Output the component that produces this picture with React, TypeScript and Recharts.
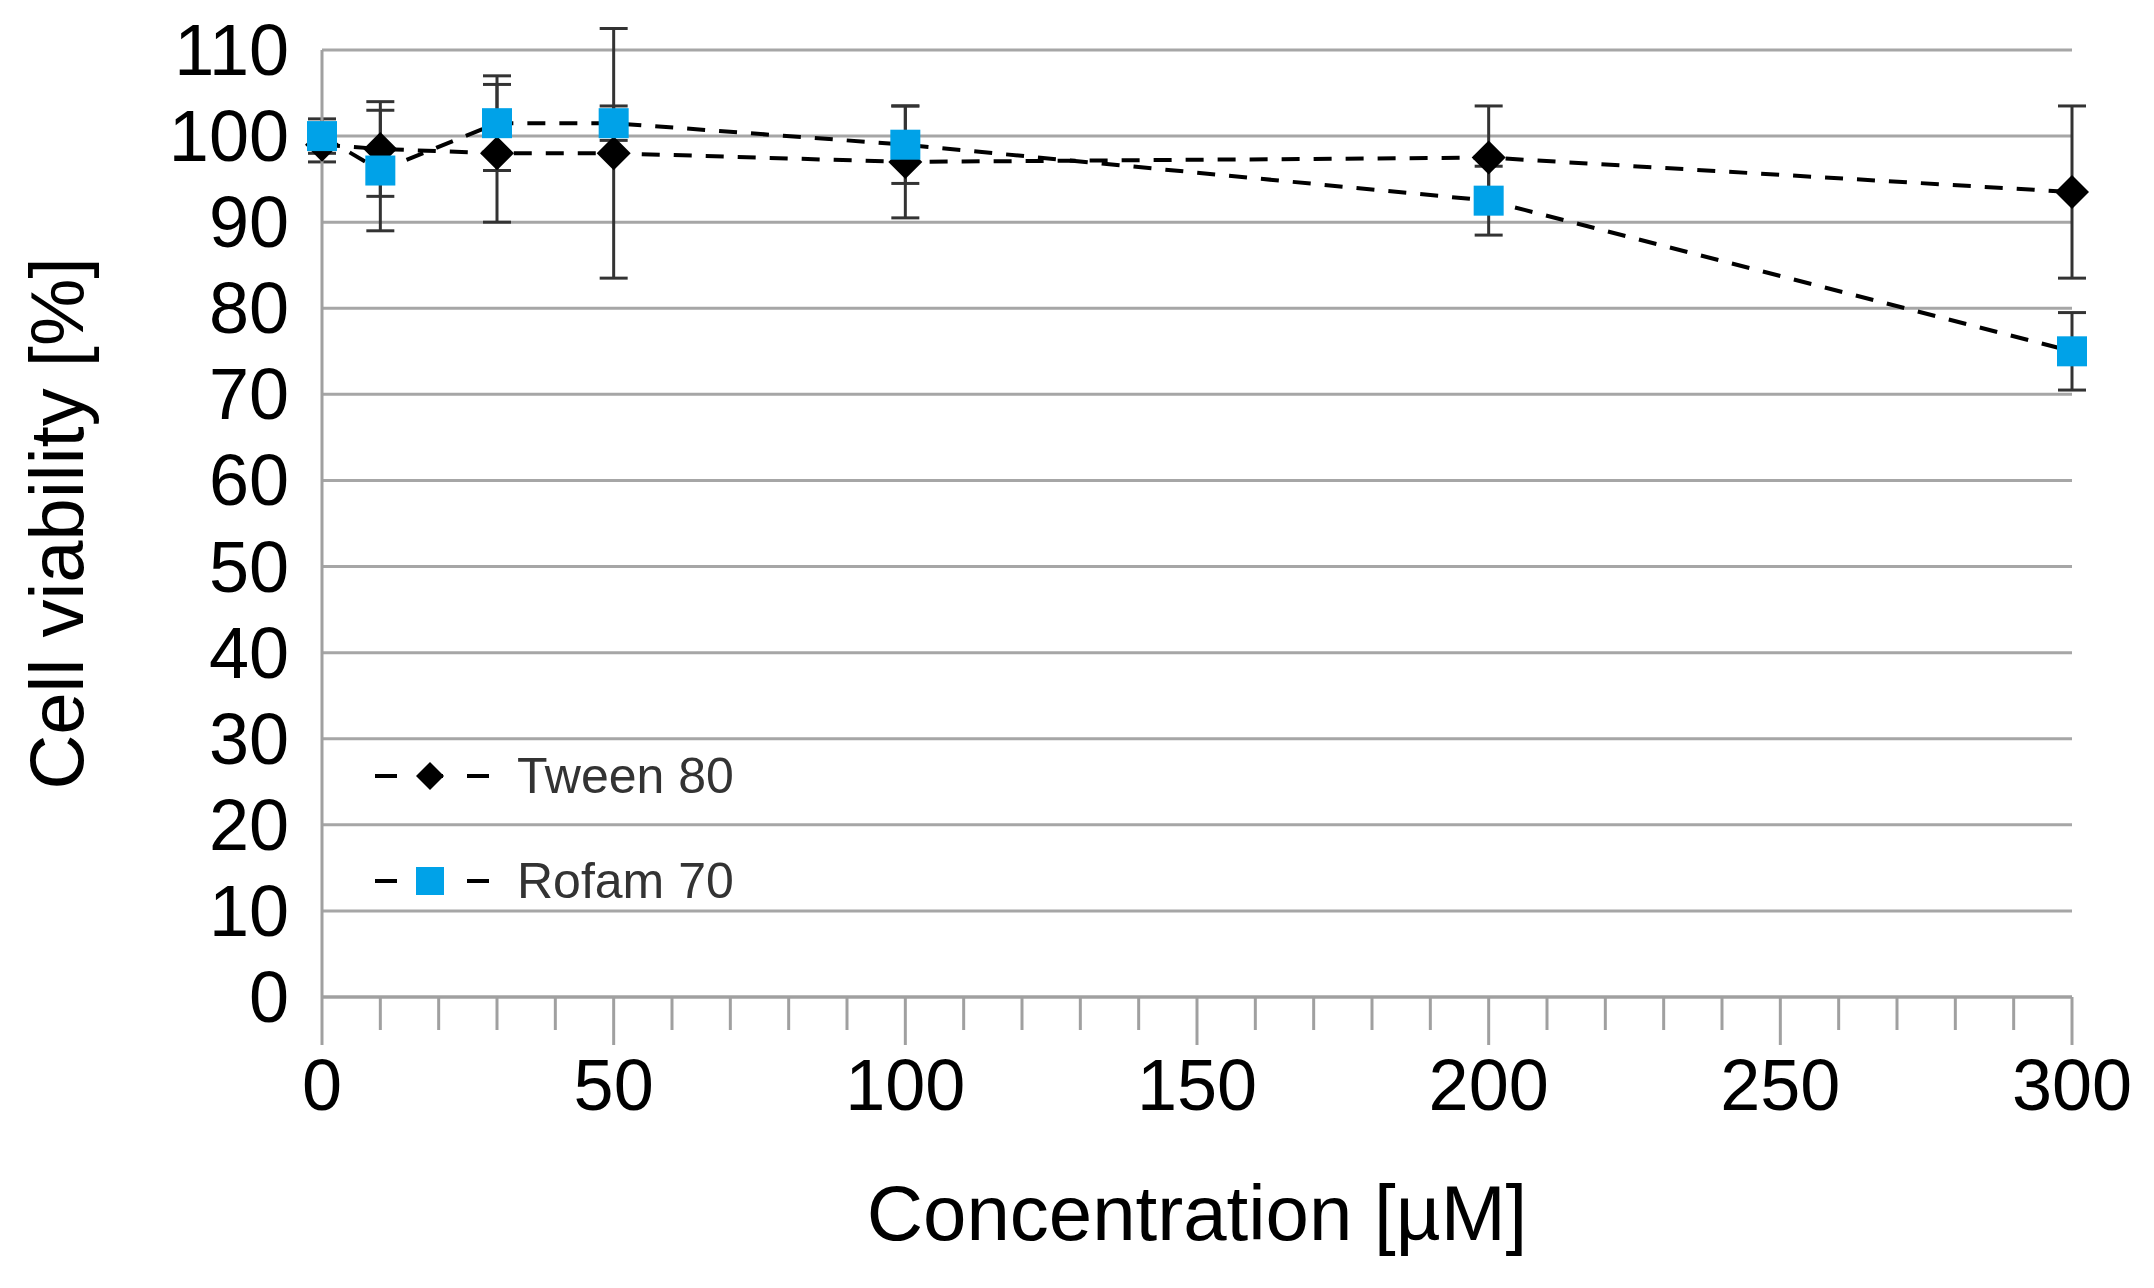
import React from 'react';
import { LineChart, Line, XAxis, YAxis, CartesianGrid, ErrorBar } from 'recharts';

const concentrations = [0, 10, 30, 50, 100, 200, 300];
const tween80 = [99, 98.5, 98, 98, 97, 97.5, 93.5];
const tween80Err = [2, 5.5, 8, 14.5, 6.5, 6, 10];
const rofam70 = [100, 96, 101.5, 101.5, 99, 92.5, 75];
const rofam70Err = [2, 7, 5.5, 2, 4.5, 4, 4.5];
const yTicks = [0, 10, 20, 30, 40, 50, 60, 70, 80, 90, 100, 110];
const xTicks = Array.from({ length: 31 }, (_, i) => i * 10);

const data = concentrations.map((c, i) => ({
  conc: c,
  tween: tween80[i],
  tweenErr: tween80Err[i],
  rofam: rofam70[i],
  rofamErr: rofam70Err[i],
}));

const FONT = '"Liberation Sans", Arial, sans-serif';

const Diamond = (props: any) => {
  const { cx, cy } = props;
  const r = 17;
  return <path d={`M${cx},${cy - r} L${cx + r},${cy} L${cx},${cy + r} L${cx - r},${cy} Z`} fill="#000" />;
};

const Square = (props: any) => {
  const { cx, cy } = props;
  const s = 30;
  return <rect x={cx - s / 2} y={cy - s / 2} width={s} height={s} fill="#00a2e8" />;
};

const XTick = (props: any) => {
  const { x, y, payload } = props;
  const major = payload.value % 50 === 0;
  return (
    <g>
      <line x1={x} y1={y - 8} x2={x} y2={y + (major ? 40 : 25)} stroke="#a0a0a0" strokeWidth={3} />
      {major && (
        <text x={x} y={y + 105} textAnchor="middle" fontSize={72} fontFamily={FONT} fill="#000">
          {payload.value}
        </text>
      )}
    </g>
  );
};

const YTick = (props: any) => {
  const { x, y, payload } = props;
  return (
    <text x={x - 25} y={y + 25} textAnchor="end" fontSize={72} fontFamily={FONT} fill="#000">
      {payload.value}
    </text>
  );
};

const YLabel = (props: any) => {
  const { viewBox } = props;
  const cy = viewBox.y + viewBox.height / 2;
  const x = 75;
  return (
    <text x={x} y={cy} transform={`rotate(-90, ${x}, ${cy})`} textAnchor="middle" fontSize={76} fontFamily={FONT} fill="#000">
      Cell viability [%]
    </text>
  );
};

export default function App() {
  return (
    <div style={{ position: 'relative', width: 2138, height: 1272, background: '#fff' }}>
      <LineChart width={2138} height={1272} data={data} margin={{ top: 42, right: 74, left: 0, bottom: 0 }}>
        <CartesianGrid horizontal vertical={false} stroke="#a6a6a6" strokeWidth={3} />
        <XAxis
          dataKey="conc"
          type="number"
          domain={[0, 300]}
          ticks={xTicks}
          interval={0}
          tick={<XTick />}
          tickLine={false}
          axisLine={{ stroke: '#a0a0a0', strokeWidth: 3 }}
          height={283}
          label={{ value: 'Concentration [µM]', position: 'insideBottom', offset: 40, fontSize: 78, fontFamily: FONT, fill: '#000' }}
        />
        <YAxis
          type="number"
          domain={[0, 110]}
          allowDataOverflow
          ticks={yTicks}
          interval={0}
          tick={<YTick />}
          tickLine={false}
          axisLine={{ stroke: '#a0a0a0', strokeWidth: 3 }}
          width={314}
          label={<YLabel />}
        />
        <Line
          dataKey="tween"
          type="linear"
          stroke="#000"
          strokeWidth={4}
          strokeDasharray="18 14"
          dot={<Diamond />}
          activeDot={false}
          isAnimationActive={false}
        >
          <ErrorBar dataKey="tweenErr" width={14} stroke="#333" strokeWidth={3} direction="y" />
        </Line>
        <Line
          dataKey="rofam"
          type="linear"
          stroke="#000"
          strokeWidth={4}
          strokeDasharray="18 14"
          dot={<Square />}
          activeDot={false}
          isAnimationActive={false}
        >
          <ErrorBar dataKey="rofamErr" width={14} stroke="#333" strokeWidth={3} direction="y" />
        </Line>
      </LineChart>
      {[
        { label: 'Tween 80', y: 768, marker: 'diamond' },
        { label: 'Rofam 70', y: 873, marker: 'square' },
      ].map((item) => (
        <div key={item.label} style={{ position: 'absolute', left: 365, top: item.y - 30, display: 'flex', alignItems: 'center', height: 60 }}>
          <svg width={140} height={60}>
            <line x1={2} y1={30} x2={138} y2={30} stroke="#000" strokeWidth={4} strokeDasharray="22 24" />
            {item.marker === 'diamond' ? (
              <path d="M57,16 L71,30 L57,44 L43,30 Z" fill="#000" />
            ) : (
              <rect x={43} y={16} width={28} height={28} fill="#00a2e8" />
            )}
          </svg>
          <span style={{ fontFamily: FONT, fontSize: 50, color: '#333', marginLeft: 4 }}>{item.label}</span>
        </div>
      ))}
    </div>
  );
}
